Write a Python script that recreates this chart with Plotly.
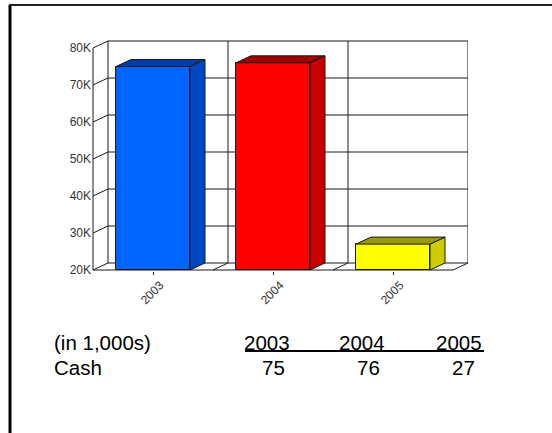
import plotly.graph_objects as go

# ---- data -------------------------------------------------------------
categories = ["2003", "2004", "2005"]
cash_k = [75, 76, 27]                      # cash, in thousands
y_ticks = [20, 30, 40, 50, 60, 70, 80]
y_tick_labels = ["20K", "30K", "40K", "50K", "60K", "70K", "80K"]
table_label = "(in 1,000s)"
row_label = "Cash"

front_colors = ["#0064ff", "#ff0000", "#ffff00"]
side_colors = ["#0047c4", "#c80000", "#cccc00"]
top_colors = ["#003ca6", "#a00000", "#999900"]

# ---- geometry (pixels) ------------------------------------------------
W, H = 552, 433
PLOT_L, PLOT_R, PLOT_T, PLOT_B = 92, 468, 40, 271
CAT_PX = 120.0        # pixels per category slot
K_PX = 3.7            # pixels per 1K
FRONT_LEFT_PX = 93
FLOOR_PX = 270
FLOOR = y_ticks[0]
TOP = y_ticks[-1]
DX = 15 / CAT_PX      # 3-D depth, horizontal (category units)
DY = 7 / K_PX         # 3-D depth, vertical (K units)
BAR_W = 74 / CAT_PX

n = len(categories)
xs = list(range(n))
x_lo = -0.5 - (FRONT_LEFT_PX - PLOT_L) / CAT_PX
x_hi = -0.5 + (PLOT_R - FRONT_LEFT_PX) / CAT_PX
y_lo = FLOOR - (PLOT_B - FLOOR_PX) / K_PX
y_hi = FLOOR + (FLOOR_PX - PLOT_T) / K_PX

PW, PH = PLOT_R - PLOT_L, PLOT_B - PLOT_T


def px_x(px):
    return (px - PLOT_L) / PW


def px_y(py):
    return (PLOT_B - py) / PH


LINE = "#1a1a1a"
shapes = []


def seg(x0, y0, x1, y1, color=LINE, width=1, ref="data"):
    d = dict(type="line", x0=x0, y0=y0, x1=x1, y1=y1,
             line=dict(color=color, width=width), layer="below")
    if ref == "data":
        d.update(xref="x", yref="y")
    else:
        d.update(xref="paper", yref="paper", layer="above")
    shapes.append(d)


left = -0.5
right = n - 0.5
# wall gridlines with the diagonal that joins them to the front axis
for t in y_ticks:
    seg(left, t, left + DX, t + DY)
    seg(left + DX, t + DY, right + DX, t + DY)
# front value axis
seg(left, FLOOR, left, TOP)
# back wall verticals at category boundaries
for b in [left + i for i in range(n + 1)]:
    seg(b + DX, FLOOR + DY, b + DX, TOP + DY)
# floor
seg(left, FLOOR, right, FLOOR)
for b in [left + i for i in range(1, n + 1)]:
    seg(b, FLOOR, b + DX, FLOOR + DY)

fig = go.Figure()

# bar front faces
fig.add_trace(go.Bar(
    x=xs, y=[v - FLOOR for v in cash_k], base=[FLOOR] * n,
    width=BAR_W, marker=dict(color=front_colors, line=dict(color=LINE, width=1)),
    hoverinfo="skip", showlegend=False,
))

# bar side and top faces
for i, v in enumerate(cash_k):
    xl, xr = xs[i] - BAR_W / 2, xs[i] + BAR_W / 2
    fig.add_trace(go.Scatter(
        x=[xr, xr + DX, xr + DX, xr, xr],
        y=[FLOOR, FLOOR + DY, v + DY, v, FLOOR],
        fill="toself", fillcolor=side_colors[i], mode="lines",
        line=dict(color=LINE, width=1), hoverinfo="skip", showlegend=False,
    ))
    fig.add_trace(go.Scatter(
        x=[xl, xl + DX, xr + DX, xr, xl],
        y=[v, v + DY, v + DY, v, v],
        fill="toself", fillcolor=top_colors[i], mode="lines",
        line=dict(color=LINE, width=1), hoverinfo="skip", showlegend=False,
    ))

annotations = []
# rotated category labels under each bar
for i, c in enumerate(categories):
    annotations.append(dict(
        x=xs[i], y=FLOOR, xref="x", yref="y", text=c, showarrow=False,
        textangle=-45, yshift=-23, xshift=-1,
        font=dict(family="Arial, Liberation Sans", size=12, color="#333333"),
    ))

# summary table below the chart
TFONT = dict(family="Arial, Liberation Sans", size=20.5, color="#000000")
HEAD_Y, ROW_Y = 342, 367
annotations.append(dict(x=px_x(52), y=px_y(HEAD_Y), xref="paper", yref="paper",
                        text=table_label, showarrow=False, xanchor="left",
                        yanchor="middle", font=TFONT))
annotations.append(dict(x=px_x(52), y=px_y(ROW_Y), xref="paper", yref="paper",
                        text=row_label, showarrow=False, xanchor="left",
                        yanchor="middle", font=TFONT))
year_right = [292, 387, 484]
value_right = [287, 382, 477]
for i, c in enumerate(categories):
    annotations.append(dict(x=px_x(year_right[i]), y=px_y(HEAD_Y), xref="paper",
                            yref="paper", text=c, showarrow=False,
                            xanchor="right", yanchor="middle", font=TFONT))
    annotations.append(dict(x=px_x(value_right[i]), y=px_y(ROW_Y), xref="paper",
                            yref="paper", text=str(cash_k[i]), showarrow=False,
                            xanchor="right", yanchor="middle", font=TFONT))

# underline under the year headings
seg(px_x(245), px_y(351), px_x(484), px_y(351), color="#000000", width=2.2,
    ref="paper")
# frame along the top and left edges
seg(px_x(9), px_y(5), px_x(552), px_y(5), color="#222222", width=2, ref="paper")
seg(px_x(10), px_y(5), px_x(10), px_y(433), color="#000000", width=3, ref="paper")

fig.update_layout(
    width=W, height=H,
    margin=dict(l=PLOT_L, r=W - PLOT_R, t=PLOT_T, b=H - PLOT_B, pad=0),
    paper_bgcolor="white", plot_bgcolor="white",
    shapes=shapes, annotations=annotations, showlegend=False,
    bargap=0,
    xaxis=dict(range=[x_lo, x_hi], tickvals=xs, showticklabels=False,
               ticks="outside", ticklen=3, tickcolor=LINE, showgrid=False,
               zeroline=False, showline=False, fixedrange=True),
    yaxis=dict(range=[y_lo, y_hi], tickvals=y_ticks, ticktext=y_tick_labels,
               showgrid=False, zeroline=False, showline=False, ticks="",
               tickfont=dict(family="Arial, Liberation Sans", size=12,
                             color="#333333"), fixedrange=True),
)

fig.write_html("out.html")
